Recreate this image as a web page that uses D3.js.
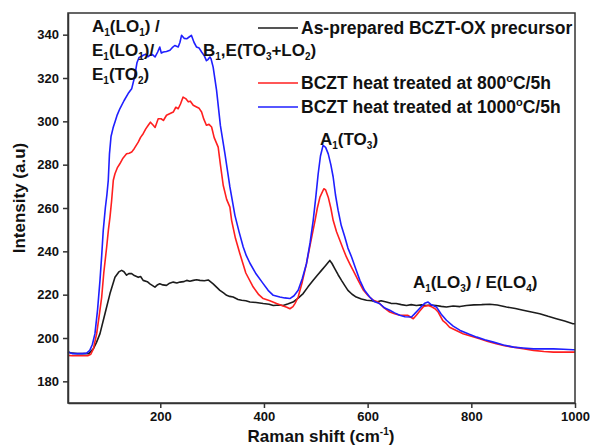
<!DOCTYPE html>
<html>
<head>
<meta charset="utf-8">
<script src="https://cdn.jsdelivr.net/npm/d3@7"></script>
<style>
  body { margin: 0; background: #fff; }
  #chart { width: 590px; height: 447px; }
  text { font-family: "Liberation Sans", Arial, sans-serif; fill: #111; }
</style>
</head>
<body>
<div id="chart"></div>
<script>

// As-prepared BCZT-OX precursor (black)
const blackShift = [22,30,40,50,62,70.8,77,83.7,93.3,103,112.6,120,125.5,130,135,140,144.8,150,157.5,162,167,175,180,189.7,195,199,205,212,218,225,232,238,245,251,257,263.6,270,276.5,285,292.5,302,308,315,322,328,334,340.6,350,357,365,373,385,398.5,410,418,430,437,447,456,466,475.6,485,495,503,511,519,527,531,536.6,543,549.6,556,562,570,578,588,597.8,608,617,626,636,645,655,665,675,684,694,704,713,722,732,742,752,765,778,790.6,805,820,835.5,850,867.7,885,900,916,932,948,964,980,996,1000];
const blackIntensity = [193.5,193,192.8,192.8,192.8,195,198,202,211.2,220.5,228,230.5,231.2,230.6,229,229.8,229.7,228.8,228,228.4,226.6,226,225,223.5,224.6,225,224.5,224.3,225.3,225.8,225.4,225.8,226,226.6,226.2,226.6,226.9,226.6,226.4,226.8,225,223.6,222,220.8,219.7,219.2,218.9,217.8,217.4,217.2,216.6,216.4,215.9,215.6,215,215.2,215,215.8,216.6,218.4,220.5,223.6,226.6,229,231.2,233.5,235.8,234.5,232,229.2,226.6,224.2,222,220.2,218.9,218,217.4,217.2,216.6,217.2,216.6,216,215.9,215.4,215,215.4,215,215.3,215,215.2,215,214.6,214.3,214.8,214.5,215,215.3,215.4,215.6,215.2,214.3,213.6,212.8,212,211.2,210,208.9,207.8,206.6,206.6];

// BCZT heat treated at 800 C / 5h (red)
const redShift = [22,30,40,50,60,66,71,77.3,82,87,91,96.6,100,103,106,109.4,112.6,117,122,128,135,140,144.8,150,157.5,162,167,172,176.8,181,186.4,190,196,201.5,206,212,218,225,230,234.6,239,244,249,254,258,263.6,270,275,279.7,284,289,294,299,304,311.7,316,321.4,328,334.3,337.6,345,353.6,365,379.3,390,398.5,411.4,424.3,437,444,450,456,460,466,474,482,490,498.6,503,508,515.5,519,524,529,533.5,540,546.5,553,559,566,572,582,592,601,611,620,630,642.7,652,662,668.4,677,688,694,700.5,708,716.6,722,730,736,745,752,758,771,784,800,816,832,848,864,881,900,920,940,958.5,978,996,1000];
const redIntensity = [192,191.8,191.8,191.8,191.8,192.5,195,202,210,218.9,230,242,250,255.8,263,272.8,275.8,278.5,280.4,283,285,285.3,285.8,287.5,290.4,292.6,294.3,296.5,298.2,299.6,298.2,297.2,301.2,301.2,300.4,302.8,303.5,304.3,306.5,305.8,308,311.2,310.5,309,309.3,307.4,306.6,306,304.3,301,298.2,298.6,297.4,292.5,288.1,280,270.5,264,260.4,254.3,246,238.9,230,223.5,220,218.2,217.2,215.9,214.8,214.2,213.5,214.5,216,218.9,226,234.3,244,254.3,260,265,268.9,268.3,265,260,254.3,249,245,241,237.4,234,231.2,226.5,222,219.5,217.4,216.6,214.3,212,211.2,210.5,210.5,210.5,208.9,210.5,212.5,214.5,215,214.6,213.5,212,208,206.6,205,203.5,202,200.8,199.7,198.4,197.4,196.4,195.8,195,194.3,193.8,193.5,193.5,193.5,193.5];

// BCZT heat treated at 1000 C / 5h (blue)
const blueShift = [22,30,40,50,58,64,69,74,79,83.7,87,90,94,97,99.7,102,105,109,112.6,117,122,130,138,144.8,150,155,159,164,167,172,176,180,185,190,195,199,202,206,212,218.6,223,228,234.6,238,241,246,251,255,260,265,270,275,279.7,285,289,292,295.7,298,302,308.6,316,324.7,334.3,344,352,360,366,373,385,398.5,408,418,430.7,440,450,458,466,474,482,489,495,500,504.6,509,514,519,524,529,533.5,538,543,549,556,562,569,577,585,594,604,613,623.5,633,642.7,652,662,672,684.5,690,697,704,710,716.6,722,732.6,742,752,765,778.5,795,810.6,826,842.7,862,881.3,900,920,940,958.5,978,996,1000];
const blueIntensity = [193.5,192.8,192.8,192.8,193,194.3,197,202,213,226.6,238,249.7,260,266,272.8,285,293,297,299.7,303,305.8,309.5,312.8,315,320,327,329.5,330,330.5,331,329.8,330.5,330.8,329.7,332,334.3,331.5,332,332.2,332.8,334,335,334.3,336.5,339.7,338.3,338.1,338.8,339.7,336.5,334.3,333.8,332,330.2,328,328.5,329.7,328.8,325,314.3,298,285.1,269.7,256.6,249,242,238,234.5,229.5,225.1,222,219.7,218.9,218.5,218.2,219.5,222,227.5,234.3,244,254.3,265,275.8,284,288.9,288,285,280,274.3,266,259,252,246.6,241.5,237.4,232,226.6,222,218.9,216.8,215.8,213.8,212.8,211.6,210.5,209.8,209.7,211,212.8,214.6,216,216.6,215.5,214.3,211,208.2,205.5,203.5,201.8,200.4,199.2,198.1,196.8,195.8,195.4,195,195,195,194.8,194.6,194.6];

const xTicks = [200, 400, 600, 800, 1000];
const yTicks = [180, 200, 220, 240, 260, 280, 300, 320, 340];

const legendLabels = [
    [["As-prepared BCZT-OX precursor"]],
    [["BCZT heat treated at 800"], ["o", "sup"], ["C/5h"]],
    [["BCZT heat treated at 1000"], ["o", "sup"], ["C/5h"]]
];

/*
SVG + SCALES
*/
const width = 590;
const height = 447;
const margin = {top: 13, left: 68, right: 15, bottom: 44};

const svg = d3.select("#chart")
    .append("svg")
    .attr("width", width)
    .attr("height", height);

const xScale = d3.scaleLinear()
    .domain([22, 1000])
    .range([margin.left, width - margin.right]);

const yScale = d3.scaleLinear()
    .domain([170, 350])
    .range([height - margin.bottom, margin.top]);

const series = [
    {shift: blackShift, intensity: blackIntensity, color: "#1c1c1c"},
    {shift: redShift, intensity: redIntensity, color: "#ff1f1f"},
    {shift: blueShift, intensity: blueIntensity, color: "#1f1fff"}
];

/*
LINES
*/
const line = d3.line()
    .x(function(d) { return xScale(d[0]); })
    .y(function(d) { return yScale(d[1]); });

svg.selectAll(".series")
    .data(series)
    .enter()
    .append("path")
        .attr("class", "series")
        .attr("fill", "none")
        .attr("stroke", function(d) { return d.color; })
        .attr("stroke-width", 1.6)
        .attr("stroke-linejoin", "round")
        .attr("d", function(d) { return line(d3.zip(d.shift, d.intensity)); });

/*
AXES + FRAME
*/
svg.append("rect")
    .attr("x", margin.left)
    .attr("y", margin.top)
    .attr("width", width - margin.left - margin.right)
    .attr("height", height - margin.top - margin.bottom)
    .attr("fill", "none")
    .attr("stroke", "#333")
    .attr("stroke-width", 1.5);

const xAxis = svg.append("g")
    .attr("transform", `translate(0,${height - margin.bottom})`)
    .call(d3.axisBottom(xScale).tickValues(xTicks).tickFormat(d3.format("d"))
        .tickSize(5).tickPadding(4).tickSizeOuter(0));

const yAxis = svg.append("g")
    .attr("transform", `translate(${margin.left},0)`)
    .call(d3.axisLeft(yScale).tickValues(yTicks).tickFormat(d3.format("d"))
        .tickSize(5).tickPadding(4).tickSizeOuter(0));

[xAxis, yAxis].forEach(function(ax) {
    ax.select(".domain").attr("stroke", "#333").attr("stroke-width", 1.5);
    ax.selectAll(".tick line").attr("stroke", "#333").attr("stroke-width", 1.5);
    ax.selectAll(".tick text")
        .attr("fill", "#111")
        .style("font-family", "'Liberation Sans', Arial, sans-serif")
        .style("font-size", "13px")
        .style("font-weight", "bold");
});

/*
RICH TEXT (sub / superscripts)
*/
function richText(x, y, parts, size, anchor) {
    const t = svg.append("text")
        .attr("x", x)
        .attr("y", y)
        .attr("font-size", size)
        .attr("font-weight", "bold")
        .attr("text-anchor", anchor || "start");
    let shift = 0;
    parts.forEach(function(p) {
        let target = p[1] === "sub" ? 4 : p[1] === "sup" ? -7 : 0;
        t.append("tspan")
            .attr("dy", target - shift)
            .attr("font-size", p[1] ? Math.round(size * 0.6) : size)
            .text(p[0]);
        shift = target;
    });
    return t;
}

/*
AXIS LABELS
*/
richText(321, 442, [["Raman shift (cm"], ["-1", "sup"], [")"]], 17, "middle");

svg.append("text")
    .attr("transform", "rotate(-90)")
    .attr("x", -198)
    .attr("y", 25)
    .attr("text-anchor", "middle")
    .attr("font-size", 17)
    .attr("font-weight", "bold")
    .text("Intensity (a.u)");

/*
LEGEND
*/
legendLabels.forEach(function(lab, i) {
    const ly = [28, 83, 107][i];
    svg.append("line")
        .attr("x1", 258).attr("x2", 298)
        .attr("y1", ly).attr("y2", ly)
        .attr("stroke", series[i].color)
        .attr("stroke-width", 1.6);
    richText(301, ly + 6, lab, 17.5);
});

/*
PEAK ANNOTATIONS
*/
richText(92, 32, [["A"], ["1", "sub"], ["(LO"], ["1", "sub"], [") /"]], 17);
richText(92, 56, [["E"], ["1", "sub"], ["(LO"], ["1", "sub"], [")/"]], 17);
richText(92, 80, [["E"], ["1", "sub"], ["(TO"], ["2", "sub"], [")"]], 17);
richText(203, 56, [["B"], ["1", "sub"], [",E(TO"], ["3", "sub"], ["+LO"], ["2", "sub"], [")"]], 17);
richText(320, 145, [["A"], ["1", "sub"], ["(TO"], ["3", "sub"], [")"]], 17);
richText(413, 288, [["A"], ["1", "sub"], ["(LO"], ["3", "sub"], [") / E(LO"], ["4", "sub"], [")"]], 17);

</script>
</body>
</html>
